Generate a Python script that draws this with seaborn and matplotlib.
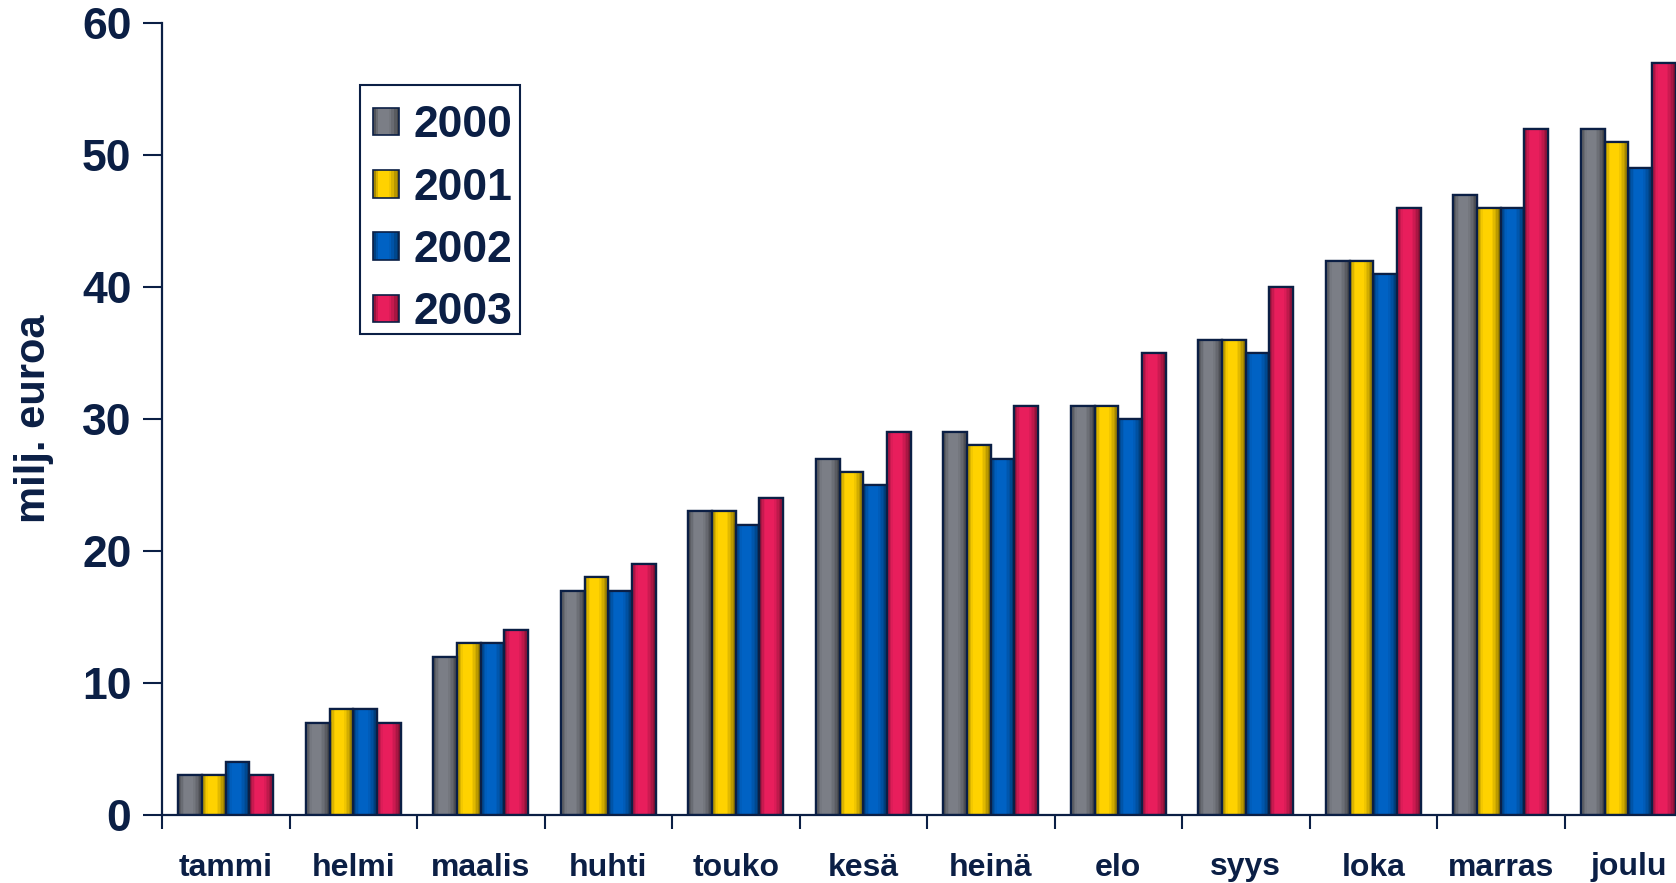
import numpy as np
import pandas as pd
import matplotlib
matplotlib.use("Agg")
import matplotlib.pyplot as plt
import seaborn as sns
from matplotlib.patches import Patch, Rectangle

months = ["tammi", "helmi", "maalis", "huhti", "touko", "kesä",
          "heinä", "elo", "syys", "loka", "marras", "joulu"]
years = ["2000", "2001", "2002", "2003"]
v2000 = [3, 7, 12, 17, 23, 27, 29, 31, 36, 42, 47, 52]
v2001 = [3, 8, 13, 18, 23, 26, 28, 31, 36, 42, 46, 51]
v2002 = [4, 8, 13, 17, 22, 25, 27, 30, 35, 41, 46, 49]
v2003 = [3, 7, 14, 19, 24, 29, 31, 35, 40, 46, 52, 57]
yticks = [0, 10, 20, 30, 40, 50, 60]
ylabel = "milj. euroa"

colors = ["#7b7e86", "#ffd200", "#0062c4", "#e81e5c"]
navy = "#0b1f45"

rows = []
for y, vals in zip(years, [v2000, v2001, v2002, v2003]):
    for m, v in zip(months, vals):
        rows.append({"month": m, "year": y, "value": v})
df = pd.DataFrame(rows)

sns.set_theme(style="white")
plt.rcParams["font.family"] = ["Liberation Sans", "DejaVu Sans"]
plt.rcParams["font.weight"] = "bold"

fig = plt.figure(figsize=(16.76, 8.83), dpi=100)
ax = fig.add_axes([162 / 1676, 1 - 815 / 883, 1530 / 1676, (815 - 23) / 883])

sns.barplot(data=df, x="month", y="value", hue="year", order=months,
            hue_order=years, palette=colors, width=0.745, gap=0,
            saturation=1, edgecolor=navy, linewidth=1.6, legend=False, ax=ax)


def profile(t):
    return np.interp(t, [0, 0.12, 0.25, 0.6, 0.8, 1.0],
                     [0.55, 0.8, 1.0, 1.0, 0.8, 0.48])


# cylinder-like shading drawn as thin vertical strips inside each bar
n = 16
pr = profile((np.arange(n) + 0.5) / n)
for p in list(ax.patches):
    x0, y0 = p.get_x(), p.get_y()
    w, h = p.get_width(), p.get_height()
    if h <= 0:
        continue
    base = np.array(matplotlib.colors.to_rgb(p.get_facecolor()))
    z = p.get_zorder()
    for i in range(n):
        ax.add_patch(Rectangle((x0 + i * w / n, y0), w / n * 1.02, h,
                               facecolor=np.clip(base * pr[i], 0, 1),
                               edgecolor="none", linewidth=0,
                               antialiased=False, zorder=z + 0.1))
    ax.add_patch(Rectangle((x0, y0), w, h, fill=False, edgecolor=navy,
                           linewidth=1.6, zorder=z + 0.2))

ax.set_xlim(-0.5, 11.5)
ax.set_ylim(0, 60)
ax.set_yticks(yticks)
ax.set_yticklabels([str(v) for v in yticks], fontsize=32, color=navy,
                   fontweight="bold")
ax.set_xticks(range(len(months)))
ax.set_xticklabels(months, fontsize=23, color=navy, fontweight="bold")
ax.set_xticks(np.arange(-0.5, 12, 1), minor=True)
ax.tick_params(axis="x", which="major", length=0, pad=27)
ax.tick_params(axis="x", which="minor", length=10, width=1.5, color=navy,
               direction="out", bottom=True)
ax.tick_params(axis="y", length=14, width=1.5, color=navy, direction="out",
               left=True, pad=8)
ax.set_xlabel("")
ax.set_ylabel(ylabel, fontsize=30, color=navy, fontweight="bold", labelpad=20)

for s in ["top", "right"]:
    ax.spines[s].set_visible(False)
for s in ["left", "bottom"]:
    ax.spines[s].set_color(navy)
    ax.spines[s].set_linewidth(1.6)


class ShadedHandler:
    def __init__(self, color):
        self.color = color

    def legend_artist(self, legend, orig_handle, fontsize, handlebox):
        x0, y0 = -handlebox.xdescent, -handlebox.ydescent
        w, h = handlebox.width, handlebox.height
        m = 10
        base = np.array(matplotlib.colors.to_rgb(self.color))
        prl = profile((np.arange(m) + 0.5) / m)
        for i in range(m):
            handlebox.add_artist(Rectangle((x0 + i * w / m, y0), w / m, h,
                                           facecolor=np.clip(base * prl[i], 0, 1),
                                           edgecolor="none",
                                           transform=handlebox.get_transform()))
        r = Rectangle((x0, y0), w, h, fill=False, edgecolor=navy,
                      linewidth=1.2, transform=handlebox.get_transform())
        handlebox.add_artist(r)
        return r


handles = [Patch(facecolor=c, edgecolor=navy, linewidth=1.2) for c in colors]
leg = fig.legend(handles, years, loc="upper left",
                 bbox_to_anchor=(360 / 1676, 1 - 92 / 883),
                 fontsize=32, frameon=False,
                 handlelength=0.58, handleheight=0.58, handletextpad=0.33,
                 labelspacing=0.48, borderpad=0.3, borderaxespad=0,
                 handler_map={h: ShadedHandler(c) for h, c in zip(handles, colors)})
for txt in leg.get_texts():
    txt.set_color(navy)
    txt.set_fontweight("bold")

# legend frame
fig.add_artist(Rectangle((360 / 1676, 1 - 333.5 / 883), 159.5 / 1676, 248 / 883,
                         transform=fig.transFigure, fill=False,
                         edgecolor=navy, linewidth=1.5))

fig.savefig("out.png", dpi=100)
